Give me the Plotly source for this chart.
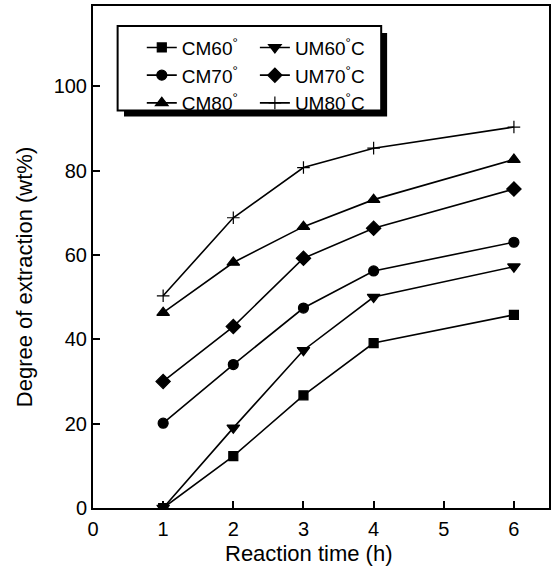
import plotly.graph_objects as go

# Reaction time (h) at which samples were taken
time_h = [1, 2, 3, 4, 6]

# Degree of extraction (wt%) for each condition
cm60 = [0.0, 12.3, 26.7, 39.1, 45.8]
cm70 = [20.1, 34.0, 47.4, 56.2, 63.0]
cm80 = [46.3, 58.2, 66.7, 73.1, 82.6]
um60 = [0.0, 19.0, 37.4, 50.0, 57.2]
um70 = [30.0, 43.0, 59.2, 66.3, 75.6]
um80 = [50.3, 68.8, 80.7, 85.3, 90.3]

x_ticks = [0, 1, 2, 3, 4, 5, 6]
y_ticks = [0, 20, 40, 60, 80, 100]

FONT = "Liberation Sans, Arial, sans-serif"

# CM series go in the left legend column, UM series in the right one
series = [
    ("CM60<sup>°</sup>", cm60, "square", 9, "legend"),
    ("CM70<sup>°</sup>", cm70, "circle", 10, "legend"),
    ("CM80<sup>°</sup>", cm80, "triangle-up", 11, "legend"),
    ("UM60<sup>°</sup>C", um60, "triangle-down", 11, "legend2"),
    ("UM70<sup>°</sup>C", um70, "diamond", 11, "legend2"),
    ("UM80<sup>°</sup>C", um80, "cross-thin", 9, "legend2"),
]

fig = go.Figure()
for name, vals, sym, size, leg in series:
    fig.add_trace(go.Scatter(
        x=time_h, y=vals, name=name, mode="lines+markers", legend=leg,
        line=dict(color="black", width=1.6),
        marker=dict(symbol=sym, size=size, color="black",
                    line=dict(color="black", width=1.2)),
    ))

# legend frame with a solid drop shadow
fig.add_shape(type="rect", xref="paper", yref="paper",
              x0=0.068, x1=0.645, y0=0.78, y1=0.946,
              fillcolor="black", line=dict(width=0), layer="above")
fig.add_shape(type="rect", xref="paper", yref="paper",
              x0=0.054, x1=0.632, y0=0.792, y1=0.960,
              fillcolor="white", line=dict(color="black", width=2), layer="above")

axis_common = dict(
    showline=True, linecolor="black", linewidth=2, mirror=True,
    ticks="inside", ticklen=7, tickwidth=2, tickcolor="black",
    showgrid=False, zeroline=False,
    tickfont=dict(family=FONT, size=20, color="black"),
)

legend_common = dict(
    orientation="v", yanchor="top", xanchor="left",
    bgcolor="rgba(0,0,0,0)", borderwidth=0,
    font=dict(family=FONT, size=19, color="black"),
    tracegroupgap=0, itemwidth=30, traceorder="normal",
)

# axis titles placed as annotations so they can sit off-centre
fig.add_annotation(text="Reaction time (h)", xref="paper", yref="paper",
                   x=0.473, y=-0.0904, xanchor="center", yanchor="middle",
                   showarrow=False, font=dict(family=FONT, size=22, color="black"))
fig.add_annotation(text="Degree of extraction (wt%)", xref="paper", yref="paper",
                   x=-0.151, y=0.46, xanchor="center", yanchor="middle",
                   textangle=-90, showarrow=False,
                   font=dict(family=FONT, size=22, color="black"))

fig.update_layout(
    width=555, height=574,
    margin=dict(l=93, r=5, t=4, b=66),
    paper_bgcolor="white", plot_bgcolor="white",
    font=dict(family=FONT, size=20, color="black"),
    xaxis=dict(range=[0, 6.5], tickvals=x_ticks, ticklabelstandoff=2, **axis_common),
    yaxis=dict(range=[0, 119], tickvals=y_ticks, **axis_common),
    legend=dict(x=0.107, y=0.955, **legend_common),
    legend2=dict(x=0.355, y=0.955, **legend_common),
    showlegend=True,
)

fig.write_html("out.html")
